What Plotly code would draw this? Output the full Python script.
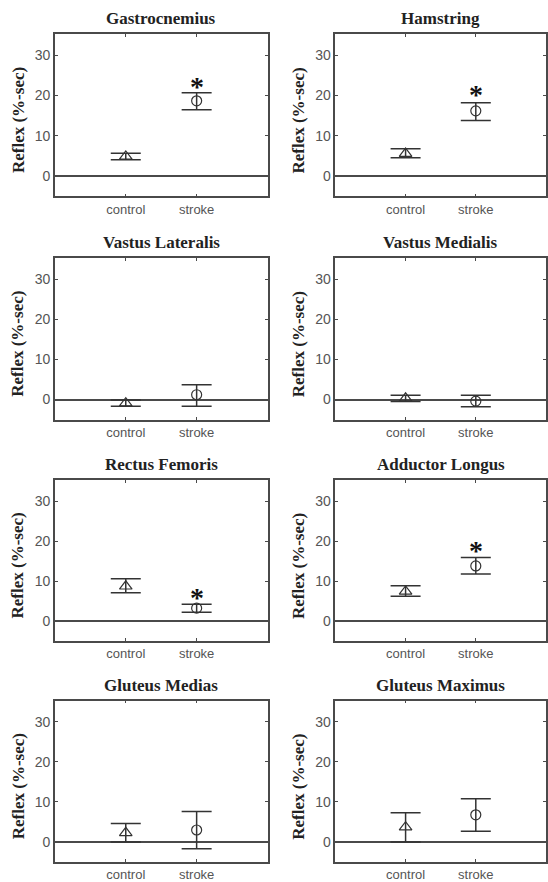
import plotly.graph_objects as go

muscles = ["Gastrocnemius", "Hamstring", "Vastus Lateralis", "Vastus Medialis",
           "Rectus Femoris", "Adductor Longus", "Gluteus Medias", "Gluteus Maximus"]
groups = ["control", "stroke"]
# means
control_mean = [4.9, 5.6, -0.9, 0.3, 8.7, 7.4, 2.3, 3.7]
stroke_mean = [18.7, 16.2, 1.2, -0.4, 3.2, 13.8, 3.0, 6.8]
# error bar extents (upper, lower) relative to mean
control_up = [0.8, 1.2, 0.8, 0.8, 1.9, 1.4, 2.3, 3.6]
control_dn = [0.8, 1.0, 0.8, 0.8, 1.6, 1.2, 2.3, 3.7]
stroke_up = [2.0, 2.0, 2.5, 1.5, 1.0, 2.1, 4.6, 4.0]
stroke_dn = [2.2, 2.4, 2.9, 1.4, 1.0, 2.0, 4.7, 4.1]
star_y = [23.2, 21.2, None, None, 7.0, 18.7, None, None]
ytick_vals = [0, 10, 20, 30]

W, H = 548, 882
col_x = [(55, 268), (336, 547)]
row_y = [(34, 197), (259, 421), (482, 643), (703, 865)]

fig = go.Figure()
SERIF = "Liberation Serif, Times New Roman, serif"
SANS = "Liberation Sans, Arial, sans-serif"
INK = "#333333"
FRAME = "#4a4a4a"

annotations = []
for i, name in enumerate(muscles):
    r, c = divmod(i, 2)
    xa = "x" if i == 0 else f"x{i+1}"
    ya = "y" if i == 0 else f"y{i+1}"
    x0, x1 = col_x[c]
    y0, y1 = row_y[r]
    dom_x = [x0 / W, x1 / W]
    dom_y = [1 - y1 / H, 1 - y0 / H]
    axkey = "" if i == 0 else str(i + 1)
    fig.add_trace(go.Scatter(
        x=[1], y=[control_mean[i]], xaxis=xa, yaxis=ya, mode="markers",
        marker=dict(symbol="triangle-up-open", size=11, color=INK, line=dict(width=1.2)),
        error_y=dict(type="data", symmetric=False, array=[control_up[i]],
                     arrayminus=[control_dn[i]], width=15, thickness=1.5, color=INK),
        showlegend=False, hoverinfo="skip"))
    fig.add_trace(go.Scatter(
        x=[2], y=[stroke_mean[i]], xaxis=xa, yaxis=ya, mode="markers",
        marker=dict(symbol="circle-open", size=10, color=INK, line=dict(width=1.2)),
        error_y=dict(type="data", symmetric=False, array=[stroke_up[i]],
                     arrayminus=[stroke_dn[i]], width=15, thickness=1.5, color=INK),
        showlegend=False, hoverinfo="skip"))
    fig.update_layout(**{
        f"xaxis{axkey}": dict(domain=dom_x, anchor=ya, range=[0, 3],
                              tickvals=[1, 2], ticktext=groups,
                              ticks="inside", ticklen=3, tickcolor=FRAME,
                              showline=True, linecolor=FRAME, linewidth=1.6,
                              mirror="allticks", showgrid=False, zeroline=False,
                              tickfont=dict(family=SANS, size=13, color="#555555"),
                              fixedrange=True),
        f"yaxis{axkey}": dict(domain=dom_y, anchor=xa, range=[-5, 35.3],
                              tickvals=ytick_vals,
                              ticks="inside", ticklen=3, tickcolor=FRAME,
                              showline=True, linecolor=FRAME, linewidth=1.6,
                              mirror="allticks", showgrid=False,
                              zeroline=True, zerolinecolor=FRAME, zerolinewidth=1.5,
                              tickfont=dict(family=SANS, size=14, color="#555555"),
                              fixedrange=True),
    })
    annotations.append(dict(
        x=(x0 + x1) / 2 / W, y=1 - y0 / H, xref="paper", yref="paper",
        text=f"<b>{name}</b>", showarrow=False, xanchor="center", yanchor="bottom",
        yshift=4, font=dict(family=SERIF, size=17, color="#222222")))
    annotations.append(dict(
        x=(x0 - 37) / W, y=1 - (y0 + y1) / 2 / H - 5 / H, xref="paper", yref="paper",
        text="<b>Reflex (%-sec)</b>", textangle=-90, showarrow=False,
        xanchor="center", yanchor="middle",
        font=dict(family=SERIF, size=17, color="#222222")))
    if star_y[i] is not None:
        annotations.append(dict(
            x=2, y=star_y[i], xref=xa, yref=ya, text="<b>*</b>", showarrow=False,
            xanchor="center", yanchor="middle", yshift=-4,
            font=dict(family=SERIF, size=28, color="#111111")))

fig.update_layout(width=W, height=H, margin=dict(l=0, r=0, t=0, b=0),
                  paper_bgcolor="white", plot_bgcolor="white",
                  annotations=annotations)
fig.write_html("out.html", config={"displayModeBar": False})
